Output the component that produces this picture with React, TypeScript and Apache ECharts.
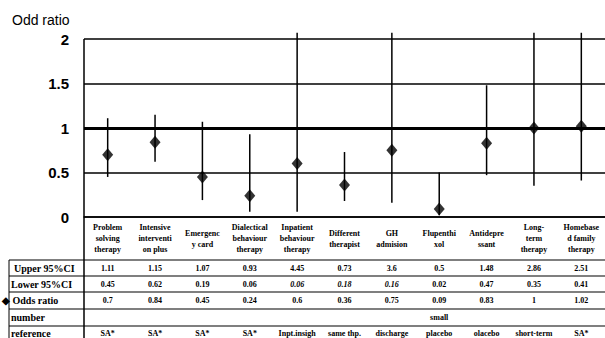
import React, { useEffect, useRef } from "react";
import * as echarts from "echarts";

const categories = [
  "Problem\nsolving\ntherapy",
  "Intensive\ninterventi\non plus",
  "Emergenc\ny card",
  "Dialectical\nbehaviour\ntherapy",
  "Inpatient\nbehaviour\ntherapy",
  "Different\ntherapist",
  "GH\nadmision",
  "Flupenthi\nxol",
  "Antidepre\nssant",
  "Long-\nterm\ntherapy",
  "Homebase\nd family\ntherapy",
];
const upperCI = [1.11, 1.15, 1.07, 0.93, 4.45, 0.73, 3.6, 0.5, 1.48, 2.86, 2.51];
const lowerCI = [0.45, 0.62, 0.19, 0.06, 0.06, 0.18, 0.16, 0.02, 0.47, 0.35, 0.41];
const oddsRatio = [0.7, 0.84, 0.45, 0.24, 0.6, 0.36, 0.75, 0.09, 0.83, 1, 1.02];
const lowerItalic = [false, false, false, false, true, true, true, false, false, false, false];
const numberRow = ["", "", "", "", "", "", "", "small", "", "", ""];
const referenceRow = ["SA*", "SA*", "SA*", "SA*", "Inpt.insigh", "same thp.", "discharge", "placebo", "olacebo", "short-term", "SA*"];
const rowLabels = ["Upper 95%CI", "Lower 95%CI", "◆ Odds ratio", "number", "reference__"];
const yMin = 0;
const yMax = 2;
const yInterval = 0.5;

const SERIF = "'Liberation Serif', 'Times New Roman', serif";
const SANS = "'Liberation Sans', Arial, sans-serif";
const BAR_CAP = 2.07;

export default function App() {
  const ref = useRef<HTMLDivElement>(null);
  useEffect(() => {
    if (!ref.current) return;
    const chart = echarts.init(ref.current, undefined, { renderer: "svg" });

    const rowAxis = (data: string[], offset: number, formatter?: any) => ({
      type: "category",
      data,
      position: "bottom",
      offset,
      silent: true,
      axisLine: { show: false },
      axisTick: { show: false },
      splitLine: { show: false },
      axisLabel: {
        interval: 0,
        margin: 0,
        verticalAlign: "middle",
        fontFamily: SERIF,
        fontWeight: "bold",
        fontSize: 8,
        color: "#000",
        formatter,
        rich: {
          i: { fontStyle: "italic", fontWeight: "bold", fontSize: 8, fontFamily: SERIF, color: "#000" },
        },
      },
    });

    const lineY = [260, 276, 292, 309, 326];
    const rowCenters = [268, 284, 300.5, 317.5, 333];
    const labelX = [14, 11, 2, 11, 11];

    chart.setOption({
      animation: false,
      title: {
        text: "Odd ratio",
        left: 12,
        top: 13,
        padding: 0,
        textStyle: { fontFamily: SANS, fontSize: 14, fontWeight: "normal", color: "#000" },
      },
      grid: { left: 84, right: 0, top: 39, bottom: 121 },
      xAxis: [
        {
          type: "category",
          data: categories,
          position: "bottom",
          axisLine: { show: true, lineStyle: { color: "#000", width: 1.5 } },
          axisTick: { show: false },
          splitLine: { show: false },
          axisLabel: {
            interval: 0,
            margin: 21.5,
            verticalAlign: "middle",
            fontFamily: SERIF,
            fontWeight: "bold",
            fontSize: 8,
            lineHeight: 11,
            color: "#000",
          },
        },
        rowAxis(upperCI.map(String), 51),
        rowAxis(lowerCI.map(String), 67, (v: string, i: number) => (lowerItalic[i] ? `{i|${v}}` : v)),
        rowAxis(oddsRatio.map(String), 83),
        rowAxis(numberRow, 100),
        rowAxis(referenceRow, 116),
      ],
      yAxis: {
        type: "value",
        min: yMin,
        max: yMax,
        interval: yInterval,
        axisLine: { show: false },
        axisTick: { show: false },
        splitLine: { show: true, lineStyle: { color: "#000", width: 1.5 } },
        axisLabel: {
          margin: 15,
          fontFamily: SANS,
          fontWeight: "bold",
          fontSize: 15,
          color: "#000",
        },
      },
      series: [
        {
          type: "custom",
          xAxisIndex: 0,
          clip: false,
          silent: true,
          encode: { x: 0, y: [1, 2] },
          data: categories.map((_, i) => [i, lowerCI[i], upperCI[i]]),
          renderItem: (params: any, api: any) => {
            const x = api.value(0);
            const lo = api.coord([x, api.value(1)]);
            const hi = api.coord([x, Math.min(api.value(2), BAR_CAP)]);
            return {
              type: "line",
              shape: { x1: lo[0], y1: lo[1], x2: hi[0], y2: hi[1] },
              style: { stroke: "#000", lineWidth: 1.5 },
            };
          },
        },
        {
          type: "scatter",
          xAxisIndex: 0,
          symbol: "diamond",
          symbolSize: [11, 13],
          itemStyle: { color: "#000" },
          silent: true,
          z: 5,
          data: oddsRatio,
          markLine: {
            silent: true,
            symbol: "none",
            label: { show: false },
            lineStyle: { color: "#000", width: 3, type: "solid" },
            data: [{ yAxis: 1 }],
          },
        },
      ],
      graphic: [
        {
          type: "line",
          shape: { x1: 84, y1: 39, x2: 84, y2: 338 },
          style: { stroke: "#000", lineWidth: 1.5 },
          silent: true,
        },
        {
          type: "line",
          shape: { x1: 9, y1: 260, x2: 9, y2: 338 },
          style: { stroke: "#000", lineWidth: 1 },
          silent: true,
        },
        ...lineY.map((y) => ({
          type: "line",
          shape: { x1: 9, y1: y, x2: 605, y2: y },
          style: { stroke: "#000", lineWidth: 1.2 },
          silent: true,
        })),
        ...rowLabels.map((t, i) => ({
          type: "text",
          x: labelX[i],
          y: rowCenters[i],
          silent: true,
          style: {
            text: t,
            fill: "#000",
            font: `bold 10px ${SERIF}`,
            verticalAlign: "middle",
            align: "left",
          },
        })),
      ],
    });
    return () => chart.dispose();
  }, []);
  return (
    <div
      ref={ref}
      style={{ position: "fixed", left: 0, top: 0, width: 605, height: 338, background: "#fff" }}
    />
  );
}
